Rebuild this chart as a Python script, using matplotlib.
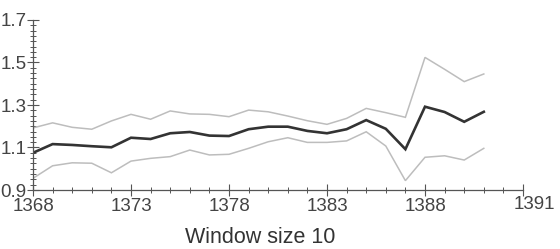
import matplotlib
matplotlib.use("Agg")
import matplotlib.pyplot as plt
from matplotlib.ticker import MultipleLocator, FixedLocator
import matplotlib.transforms as mtransforms

years = list(range(1368, 1392))
mean_vals = [1.075, 1.116, 1.112, 1.106, 1.101, 1.146, 1.140, 1.167, 1.173, 1.156,
             1.154, 1.186, 1.198, 1.198, 1.178, 1.167, 1.186, 1.229, 1.188, 1.092,
             1.292, 1.267, 1.221, 1.268]
upper_vals = [1.192, 1.216, 1.195, 1.186, 1.225, 1.256, 1.233, 1.272, 1.258, 1.256,
              1.245, 1.276, 1.268, 1.248, 1.226, 1.209, 1.237, 1.284, 1.264, 1.242,
              1.524, 1.468, 1.410, 1.446]
lower_vals = [0.955, 1.014, 1.028, 1.026, 0.981, 1.036, 1.049, 1.057, 1.088, 1.065,
              1.068, 1.096, 1.127, 1.146, 1.124, 1.124, 1.131, 1.174, 1.107, 0.944,
              1.054, 1.061, 1.041, 1.096]
x_ticks = [1368, 1373, 1378, 1383, 1388]
x_ticklabels = ["1368", "1373", "1378", "1383", "1388"]
last_label = "1391"
y_ticks = [0.9, 1.1, 1.3, 1.5, 1.7]
y_ticklabels = ["0.9", "1.1", "1.3", "1.5", "1.7"]
xlabel = "Window size 10"

fig = plt.figure(figsize=(5.6, 2.49), dpi=100)
ax = fig.add_axes([33/560, 59/249, 490/560, 170/249])

ax.plot(years, upper_vals, color="#bdbdbd", lw=1.1, solid_joinstyle="miter")
ax.plot(years, lower_vals, color="#bdbdbd", lw=1.1, solid_joinstyle="miter")
ax.plot(years, mean_vals, color="#333333", lw=1.9, solid_joinstyle="miter")

ax.set_xlim(1368, 1393)
ax.set_ylim(0.9, 1.7)
for s in ["top", "right"]:
    ax.spines[s].set_visible(False)
for s in ["left", "bottom"]:
    ax.spines[s].set_color("#555555")
    ax.spines[s].set_linewidth(0.9)

ax.xaxis.set_major_locator(FixedLocator(x_ticks + [1393]))
ax.set_xticklabels(x_ticklabels + [""])
ax.xaxis.set_minor_locator(MultipleLocator(1))
ax.yaxis.set_major_locator(FixedLocator(y_ticks))
ax.set_yticklabels(y_ticklabels)
ax.yaxis.set_minor_locator(MultipleLocator(0.025))

tick_font = dict(family=["Liberation Sans Narrow", "Liberation Sans", "DejaVu Sans"], size=13.5)
ax.tick_params(axis="both", which="major", direction="inout", length=8, width=0.8,
               color="#555555", labelcolor="#444444", pad=2)
ax.tick_params(axis="both", which="minor", direction="inout", length=4.5, width=0.7,
               color="#555555")
ax.tick_params(axis="y", which="major", pad=0.5)
for lab in ax.get_xticklabels() + ax.get_yticklabels():
    lab.set_fontfamily(tick_font["family"])
    lab.set_fontsize(tick_font["size"])

trans = mtransforms.blended_transform_factory(ax.transData, ax.transAxes)
ax.text(1393.6, -0.035, last_label, transform=trans, ha="center", va="top",
        color="#444444", clip_on=False, **tick_font)

fig.text(260/560, 1/249, xlabel, ha="center", va="bottom", color="#333333",
         family=["Liberation Sans", "DejaVu Sans"], fontsize=15.5)

fig.savefig("out.png", dpi=100)
